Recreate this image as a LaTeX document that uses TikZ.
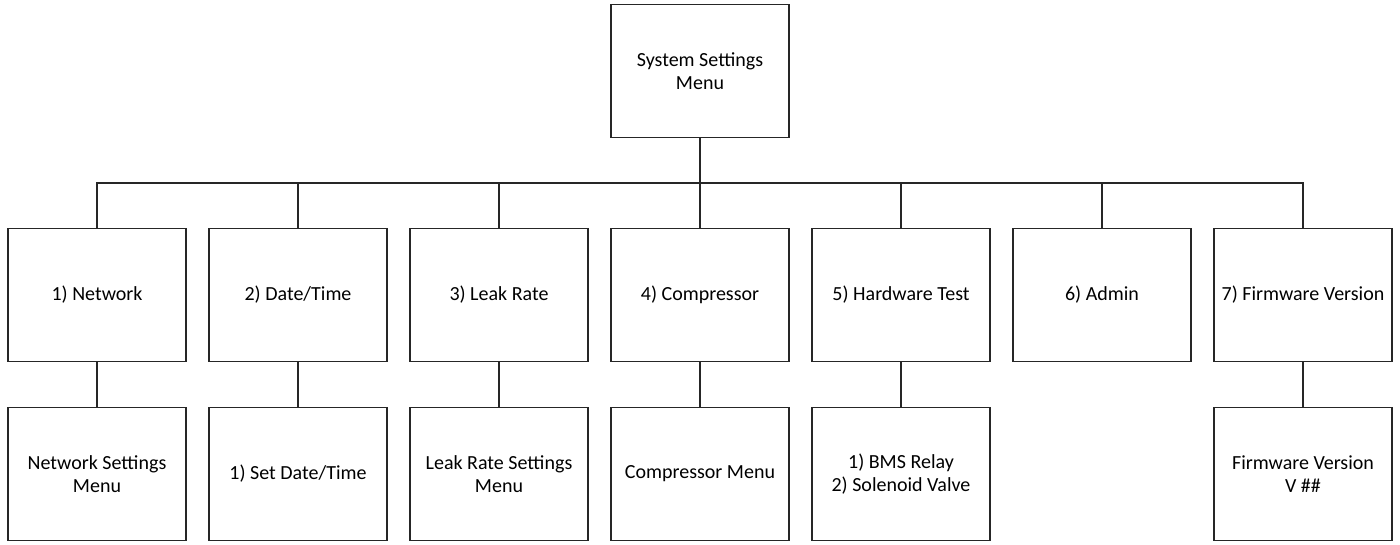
\documentclass[tikz,border=0pt]{standalone}
\usepackage{fontspec}
\setmainfont{Carlito}
\begin{document}
\begin{tikzpicture}[x=1pt,y=-1pt,
  box/.style={draw=black!85,line width=1.6pt,minimum width=178pt,minimum height=133pt,inner sep=0pt,align=center,font=\fontsize{20}{23}\selectfont},
  conn/.style={draw=black!85,line width=1.6pt}]
\useasboundingbox (0,0) rectangle (1400,544);
\node[box] (top) at (700,71) {System Settings\\Menu};
\foreach \i/\x/\t in {1/97/{1) Network},2/298/{2) Date/Time},3/499/{3) Leak Rate},4/700/{4) Compressor},5/901/{5) Hardware Test},6/1102/{6) Admin},7/1303/{7) Firmware Version}}{
  \node[box] (m\i) at (\x,295) {\t};
}
\node[box] (s1) at (97,474) {Network Settings\\Menu};
\node[box] (s2) at (298,474) {1) Set Date/Time};
\node[box] (s3) at (499,474) {Leak Rate Settings\\Menu};
\node[box] (s4) at (700,474) {Compressor Menu};
\node[box] (s5) at (901,474) {1) BMS Relay\\2) Solenoid Valve};
\node[box] (s7) at (1303,474) {Firmware Version\\V \#\#};
\coordinate (bus) at (700,183);
\draw[conn] (top.south) -- (bus);
\foreach \i in {1,...,7}{
  \draw[conn] (bus) -| (m\i.north);
}
\foreach \i in {1,2,3,4,5,7}{
  \draw[conn] (m\i.south) -- (s\i.north);
}
\end{tikzpicture}
\end{document}
